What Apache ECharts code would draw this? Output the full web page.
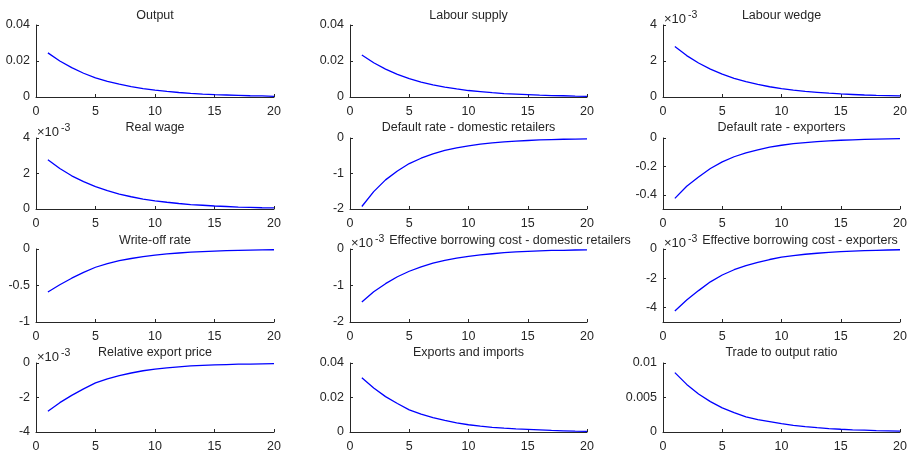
<!DOCTYPE html>
<html>
<head>
<meta charset="utf-8">
<script src="https://cdn.jsdelivr.net/npm/echarts@6/dist/echarts.min.js"></script>
<style>
html,body{margin:0;padding:0;background:#fff;}
#c{width:913px;height:453px;}
</style>
</head>
<body>
<div id="c"></div>
<script>
// ---- data ----
var periods = [1,2,3,4,5,6,7,8,9,10,11,12,13,14,15,16,17,18,19,20];
var titles = ["Output","Labour supply","Labour wedge","Real wage","Default rate - domestic retailers","Default rate - exporters","Write-off rate","Effective borrowing cost - domestic retailers","Effective borrowing cost - exporters","Relative export price","Exports and imports","Trade to output ratio"];
var output = [0.0245,0.0200,0.0163,0.0132,0.0106,0.0087,0.0071,0.0058,0.0047,0.0038,0.0031,0.0025,0.0020,0.0016,0.0013,0.0011,0.0009,0.0007,0.0006,0.0004];
var labourSupply = [0.0233,0.0190,0.0155,0.0126,0.0102,0.0083,0.0067,0.0055,0.0045,0.0036,0.0030,0.0024,0.0019,0.0016,0.0013,0.0010,0.0008,0.0007,0.0005,0.0004];
var labourWedge = [2.80,2.30,1.89,1.55,1.27,1.04,0.85,0.70,0.57,0.46,0.38,0.31,0.26,0.21,0.17,0.14,0.11,0.09,0.08,0.06]; // x1e-3
var realWage = [2.78,2.28,1.87,1.54,1.26,1.03,0.84,0.69,0.56,0.46,0.38,0.31,0.25,0.21,0.17,0.14,0.11,0.09,0.07,0.06]; // x1e-3
var defaultDomestic = [-1.93,-1.51,-1.18,-0.93,-0.72,-0.57,-0.45,-0.35,-0.28,-0.22,-0.17,-0.14,-0.11,-0.09,-0.07,-0.055,-0.045,-0.035,-0.03,-0.025];
var defaultExporters = [-0.425,-0.340,-0.275,-0.215,-0.168,-0.132,-0.105,-0.083,-0.065,-0.051,-0.040,-0.032,-0.025,-0.020,-0.016,-0.013,-0.010,-0.008,-0.006,-0.005];
var writeOff = [-0.59,-0.49,-0.40,-0.32,-0.25,-0.20,-0.16,-0.13,-0.105,-0.085,-0.068,-0.055,-0.044,-0.035,-0.028,-0.023,-0.018,-0.015,-0.012,-0.010];
var borrowDomestic = [-1.45,-1.17,-0.95,-0.76,-0.61,-0.49,-0.39,-0.31,-0.25,-0.20,-0.16,-0.13,-0.10,-0.08,-0.065,-0.05,-0.04,-0.035,-0.028,-0.022]; // x1e-3
var borrowExporters = [-4.25,-3.50,-2.85,-2.25,-1.78,-1.42,-1.14,-0.91,-0.72,-0.56,-0.45,-0.36,-0.29,-0.23,-0.18,-0.14,-0.11,-0.09,-0.07,-0.05]; // x1e-3
var exportPrice = [-2.80,-2.30,-1.88,-1.50,-1.15,-0.92,-0.73,-0.58,-0.45,-0.35,-0.28,-0.22,-0.17,-0.14,-0.11,-0.09,-0.07,-0.06,-0.05,-0.04]; // x1e-3
var exportsImports = [0.0315,0.0255,0.0205,0.0165,0.0128,0.0103,0.0083,0.0067,0.0053,0.0042,0.0034,0.0027,0.0022,0.0018,0.0015,0.0012,0.0009,0.0007,0.0005,0.0004];
var tradeRatio = [0.0086,0.0069,0.0055,0.0044,0.0035,0.0028,0.0022,0.0018,0.0015,0.0012,0.00095,0.00077,0.00062,0.0005,0.0004,0.00032,0.00026,0.0002,0.00016,0.00012];
var xTicks = [0,5,10,15,20];
var yRanges = [[0,0.04],[0,0.04],[0,4],[0,4],[-2,0],[-0.5,0],[-1,0],[-2,0],[-5,0],[-4,0],[0,0.04],[0,0.01]];
var yTicks = [[0,0.02,0.04],[0,0.02,0.04],[0,2,4],[0,2,4],[-2,-1,0],[-0.4,-0.2,0],[-1,-0.5,0],[-2,-1,0],[-4,-2,0],[-4,-2,0],[0,0.02,0.04],[0,0.005,0.01]];
var scaled = [false,false,true,true,false,false,false,true,true,true,false,false];
var seriesData = [output,labourSupply,labourWedge,realWage,defaultDomestic,defaultExporters,writeOff,borrowDomestic,borrowExporters,exportPrice,exportsImports,tradeRatio];

// ---- layout ----
var colLeft = [36, 350, 663];
var colRight = [274, 587, 900];
var rowTop = [25, 138, 249, 363];
var rowBottom = [97, 209, 322, 434];
var titleY = [16, 127.5, 241, 352.5];
var titleCenterOverride = {7: 510, 8: 800};
var ink = '#262626';
var fontFam = '"Liberation Sans", Arial, Helvetica, sans-serif';

var grids = [], xAxes = [], yAxes = [], series = [], graphics = [];
for (var i = 0; i < 12; i++) {
  var r = Math.floor(i / 3), c = i % 3;
  var L = colLeft[c], T = rowTop[r];
  grids.push({left: L, top: T, width: colRight[c] - L, height: rowBottom[r] - T, containLabel: false});
  xAxes.push({
    type: 'value', gridIndex: i, min: 0, max: 20, interval: 5,
    axisLine: {show: true, onZero: false, lineStyle: {color: ink, width: 1}},
    axisTick: {show: true, inside: true, length: 3, lineStyle: {color: ink}},
    axisLabel: {show: true, color: ink, fontSize: 12.5, fontFamily: fontFam, margin: 8, customValues: xTicks},
    splitLine: {show: false}
  });
  yAxes.push({
    type: 'value', gridIndex: i, min: yRanges[i][0], max: yRanges[i][1],
    axisLine: {show: true, onZero: false, lineStyle: {color: ink, width: 1}},
    axisTick: {show: true, inside: true, length: 3, lineStyle: {color: ink}, customValues: yTicks[i]},
    axisLabel: {show: true, color: ink, fontSize: 12.5, fontFamily: fontFam, margin: 6, customValues: yTicks[i],
      formatter: function (v) { return String(parseFloat(v.toPrecision(6))); }},
    splitLine: {show: false}
  });
  var d = [];
  for (var k = 0; k < periods.length; k++) d.push([periods[k], seriesData[i][k]]);
  series.push({
    type: 'line', xAxisIndex: i, yAxisIndex: i, data: d, showSymbol: false, symbol: 'none',
    lineStyle: {color: '#0000ff', width: 1.3}, animation: false, silent: true
  });
  var cx = titleCenterOverride[i] !== undefined ? titleCenterOverride[i] : (L + colRight[c]) / 2;
  graphics.push({
    type: 'text', x: cx, y: titleY[r], silent: true,
    style: {text: titles[i], fill: ink, font: '12.5px ' + fontFam, textAlign: 'center', textVerticalAlign: 'middle'}
  });
  if (scaled[i]) {
    graphics.push({
      type: 'text', x: L + 1, y: T - 6, silent: true,
      style: {text: '\u00d710', fill: ink, font: '13px ' + fontFam, textAlign: 'left', textVerticalAlign: 'middle'}
    });
    graphics.push({
      type: 'text', x: L + 25, y: T - 10, silent: true,
      style: {text: '-3', fill: ink, font: '10.5px ' + fontFam, textAlign: 'left', textVerticalAlign: 'middle'}
    });
  }
}

var chart = echarts.init(document.getElementById('c'), null, {renderer: 'canvas'});
chart.setOption({
  backgroundColor: '#ffffff',
  animation: false,
  grid: grids, xAxis: xAxes, yAxis: yAxes, series: series, graphic: graphics
});
</script>
</body>
</html>
